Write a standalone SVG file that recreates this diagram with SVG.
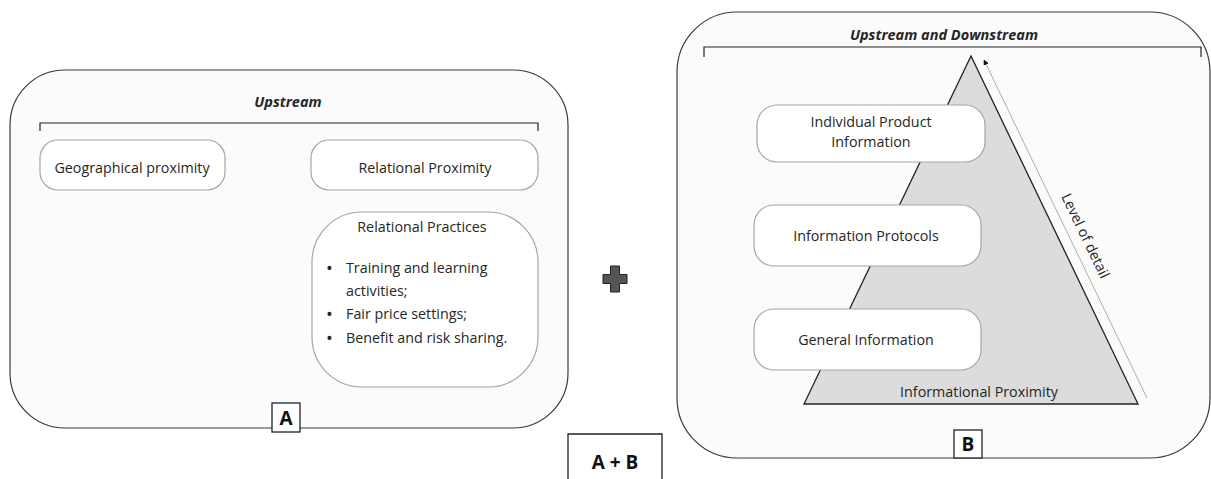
<svg xmlns="http://www.w3.org/2000/svg" width="1211" height="479" viewBox="0 0 1211 479">
<defs>
<style>
.panel{fill:#fbfbfb;stroke:#3a3a3a;stroke-width:1.2}
.box{fill:#ffffff;stroke:#a6a6a6;stroke-width:1.2}
.t{font-family:"Open Sans",sans-serif;font-size:14.3px;fill:#262626}
.bu{font-family:"Open Sans",sans-serif;font-size:18px;fill:#262626}
.ti{font-family:"Open Sans",sans-serif;font-size:14.5px;font-weight:bold;font-style:italic;fill:#262626}
.lab{fill:#ffffff;stroke:#222;stroke-width:1.3}
.lt{font-family:"Open Sans",sans-serif;font-size:19px;font-weight:bold;fill:#111}
.br{fill:none;stroke:#222;stroke-width:1.2}
</style>
<marker id="ah" viewBox="0 0 10 10" refX="9" refY="5" markerWidth="7" markerHeight="7" orient="auto-start-reverse">
<path d="M0,0 L10,5 L0,10 z" fill="#111"/>
</marker>
</defs>
<rect width="1211" height="479" fill="#ffffff"/>

<g id="panelA">
<rect class="panel" x="10" y="70" width="558" height="358" rx="55" ry="55"/>
<text class="ti" x="288" y="107" text-anchor="middle">Upstream</text>
<path class="br" d="M40,131 V123 H538 V131"/>
</g>
<g id="geo">
<rect class="box" x="40" y="140" width="185" height="50" rx="18"/>
<text class="t" x="132" y="173" text-anchor="middle">Geographical proximity</text>
</g>
<g id="relprox">
<rect class="box" x="311" y="140" width="227" height="50" rx="18"/>
<text class="t" x="425" y="173" text-anchor="middle">Relational Proximity</text>
</g>
<g id="relprac">
<rect class="box" x="312" y="212" width="226" height="175" rx="50"/>
<text class="t" x="422" y="232" text-anchor="middle">Relational Practices</text>
<text class="bu" x="326" y="275">•</text>
<text class="t" x="346" y="273">Training and learning</text>
<text class="t" x="346" y="296">activities;</text>
<text class="bu" x="326" y="321">•</text>
<text class="t" x="346" y="319">Fair price settings;</text>
<text class="bu" x="326" y="345">•</text>
<text class="t" x="346" y="343">Benefit and risk sharing.</text>
</g>
<g id="labelA">
<rect class="lab" x="272" y="403" width="28" height="29"/>
<text class="lt" x="286" y="425" text-anchor="middle">A</text>
</g>

<g id="plus">
<path d="M610.5,266 h9 v8.5 h7.5 v9 h-7.5 v8.5 h-9 v-8.5 h-7.5 v-9 h7.5 z" fill="#555" stroke="#222" stroke-width="1"/>
</g>

<g id="labelAB">
<path class="lab" d="M568,481 V434 H662 V481"/>
<text class="lt" x="615" y="469" text-anchor="middle">A + B</text>
</g>

<g id="panelB">
<rect class="panel" x="677" y="12" width="533" height="446" rx="60" ry="60"/>
<text class="ti" x="944" y="40" text-anchor="middle">Upstream and Downstream</text>
<path class="br" d="M704,57 V47 H1201 V57"/>
</g>
<g id="pyramid">
<polygon points="971,56 804,404 1138,404" fill="#dcdcdc" stroke="#222" stroke-width="1.3"/>
<text class="t" x="979" y="397" text-anchor="middle">Informational Proximity</text>
</g>
<g id="connectors">
<line x1="1147" y1="398" x2="984" y2="60" stroke="#999" stroke-width="0.8" marker-end="url(#ah)"/>
<text class="t" font-size="15" transform="translate(1081,238) rotate(64.3)" text-anchor="middle">Level of detail</text>
</g>
<g id="indiv">
<rect class="box" x="757" y="105" width="228" height="57" rx="20"/>
<text class="t" x="871" y="127" text-anchor="middle">Individual Product</text>
<text class="t" x="871" y="147" text-anchor="middle">Information</text>
</g>
<g id="protocols">
<rect class="box" x="754" y="205" width="227" height="61" rx="20"/>
<text class="t" x="866" y="241" text-anchor="middle">Information Protocols</text>
</g>
<g id="general">
<rect class="box" x="754" y="309" width="227" height="61" rx="20"/>
<text class="t" x="866" y="345" text-anchor="middle">General Information</text>
</g>
<g id="labelB">
<rect class="lab" x="954" y="430" width="28" height="28"/>
<text class="lt" x="968" y="451" text-anchor="middle">B</text>
</g>
</svg>
